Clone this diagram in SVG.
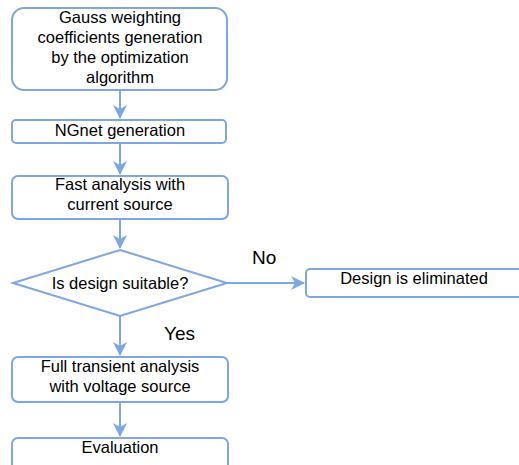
<svg xmlns="http://www.w3.org/2000/svg" width="519" height="465" viewBox="0 0 519 465">
<style>
.b{fill:#fff;stroke:#7ea6e0;stroke-width:2}
.t{font-family:"Liberation Sans",Arial,sans-serif;font-size:16.5px;fill:#000;text-anchor:middle}
.l{font-family:"Liberation Sans",Arial,sans-serif;font-size:19px;fill:#000}
.c{fill:none;stroke:#7ea6e0;stroke-width:2}
</style>
<defs>
<marker id="a" viewBox="0 0 14 14" refX="13" refY="7" markerWidth="14" markerHeight="14" markerUnits="userSpaceOnUse" orient="auto" overflow="visible">
<path d="M0,0 L14,7 L0,14 L4,7 Z" fill="#7ea6e0"/>
</marker>
</defs>
<rect width="519" height="465" fill="#fff"/>
<g id="connectors">
<line class="c" x1="120" y1="90" x2="120" y2="118" marker-end="url(#a)"/>
<line class="c" x1="120" y1="143" x2="120" y2="174" marker-end="url(#a)"/>
<line class="c" x1="120" y1="219" x2="120" y2="248" marker-end="url(#a)"/>
<line class="c" x1="227" y1="283" x2="304" y2="283" marker-end="url(#a)"/>
<line class="c" x1="120" y1="316" x2="120" y2="355" marker-end="url(#a)"/>
<line class="c" x1="120" y1="402" x2="120" y2="436" marker-end="url(#a)"/>
<text class="l" x="252" y="264">No</text>
<text class="l" x="164" y="340">Yes</text>
</g>
<g id="n1">
<rect class="b" x="12" y="8" width="215" height="82" rx="12"/>
<text class="t" x="120" y="23">Gauss weighting</text>
<text class="t" x="120" y="43">coefficients generation</text>
<text class="t" x="120" y="63">by the optimization</text>
<text class="t" x="120" y="83">algorithm</text>
</g>
<g id="n2">
<rect class="b" x="12" y="120" width="214" height="23" rx="4"/>
<text class="t" x="120" y="136">NGnet generation</text>
</g>
<g id="n3">
<rect class="b" x="12" y="176" width="216" height="43" rx="6"/>
<text class="t" x="120" y="190">Fast analysis with</text>
<text class="t" x="120" y="210">current source</text>
</g>
<g id="n4">
<polygon class="b" points="120,250 227,283 120,316 13,283"/>
<text class="t" x="120" y="289">Is design suitable?</text>
</g>
<g id="n5">
<rect class="b" x="306" y="269" width="230" height="28" rx="4"/>
<text class="t" x="414" y="284">Design is eliminated</text>
</g>
<g id="n6">
<rect class="b" x="12" y="357" width="216" height="45" rx="6"/>
<text class="t" x="120" y="372">Full transient analysis</text>
<text class="t" x="120" y="392">with voltage source</text>
</g>
<g id="n7">
<rect class="b" x="12" y="438" width="216" height="40" rx="6"/>
<text class="t" x="120" y="453">Evaluation</text>
</g>
</svg>
